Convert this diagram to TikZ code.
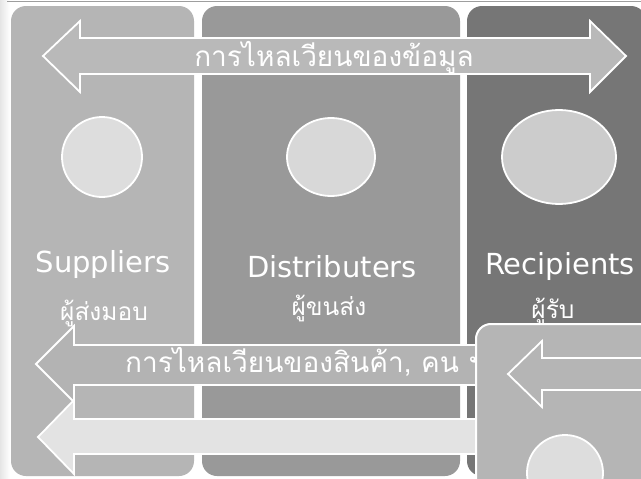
\documentclass[tikz,border=0pt]{standalone}
\usepackage{fontspec}
\setmainfont{DejaVu Sans}
\newfontfamily\thaifont[Script=Thai]{Loma}
\definecolor{pone}{HTML}{B5B5B5}
\definecolor{ptwo}{HTML}{999999}
\definecolor{pthree}{HTML}{767676}
\definecolor{arrfill}{HTML}{B9B9B9}
\definecolor{cone}{HTML}{DDDDDD}
\definecolor{ctwo}{HTML}{D8D8D8}
\definecolor{cthree}{HTML}{CCCCCC}
\definecolor{aone}{HTML}{B3B3B3}
\definecolor{atwo}{HTML}{E3E3E3}
\begin{document}
\begin{tikzpicture}[x=1pt,y=-1pt,
  panel/.style={rounded corners=15pt},
  arrowshape/.style={draw=white, line width=1.8pt, line join=miter},
  bubble/.style={draw=white, line width=1.8pt},
  latin/.style={text=white, font=\fontsize{29}{31}\selectfont, anchor=base, inner sep=0pt},
  thaisub/.style={text=white, font=\thaifont\fontsize{24.5}{26}\selectfont, anchor=base, inner sep=0pt},
  flowtext/.style={text=white, font=\thaifont\fontsize{28}{30}\selectfont, anchor=base, inner sep=0pt}
]
\useasboundingbox (0,0) rectangle (641,479);
\clip (0,0) rectangle (641,479);
\fill[white] (0,0) rectangle (641,479);
\shade[left color=black!10, right color=white] (0,0) rectangle (10,479);
\draw[black!38, line width=1.5pt] (7,1.5) -- (641,1.5);
% panels
\fill[pone, panel] (11,6) rectangle (194,476);
\fill[ptwo, panel] (202,6) rectangle (460,476);
\fill[pthree, panel] (467,6) rectangle (646,476);
% top double arrow
\draw[arrowshape, fill=arrfill] (43,56) -- (80,21) -- (80,38) -- (590,38) -- (590,21)
  -- (626,56) -- (590,92) -- (590,74) -- (80,74) -- (80,92) -- cycle;
\node[flowtext] (topflow) at (334,66) {การไหลเวียนของข้อมูล};
% circles
\draw[bubble, fill=cone] (102,157) circle[radius=40];
\draw[bubble, fill=ctwo] (331,157) ellipse[x radius=44, y radius=39];
\draw[bubble, fill=cthree] (559,157) ellipse[x radius=57, y radius=47];
% labels
\node[latin] (sup) at (103,272) {Suppliers};
\node[latin] (dis) at (332,277) {Distributers};
\node[latin] (rec) at (560,274) {Recipients};
\node[thaisub] (supth) at (104,320) {ผู้ส่งมอบ};
\node[thaisub] (disth) at (329,315) {ผู้ขนส่ง};
\node[thaisub] (recth) at (553,318) {ผู้รับ};
% bottom arrows
\draw[arrowshape, fill=aone] (36,364) -- (74,326) -- (74,345) -- (480,345) -- (480,385)
  -- (74,385) -- (74,402) -- cycle;
\node[flowtext, anchor=base west] (botflow) at (125,372) {การไหลเวียนของสินค้า, คน ฯ};
\draw[arrowshape, fill=atwo] (38,437) -- (74,400) -- (74,419) -- (480,419) -- (480,454)
  -- (74,454) -- (74,474) -- cycle;
% overlay piece
\draw[draw=white, line width=2pt, fill=pone, rounded corners=15pt] (476,324) rectangle (680,520);
\draw[arrowshape, fill=pone] (508,374) -- (542,341) -- (542,358) -- (680,358) -- (680,390)
  -- (542,390) -- (542,407) -- cycle;
\draw[bubble, fill=cone] (565,473) circle[radius=38];
\end{tikzpicture}
\end{document}
